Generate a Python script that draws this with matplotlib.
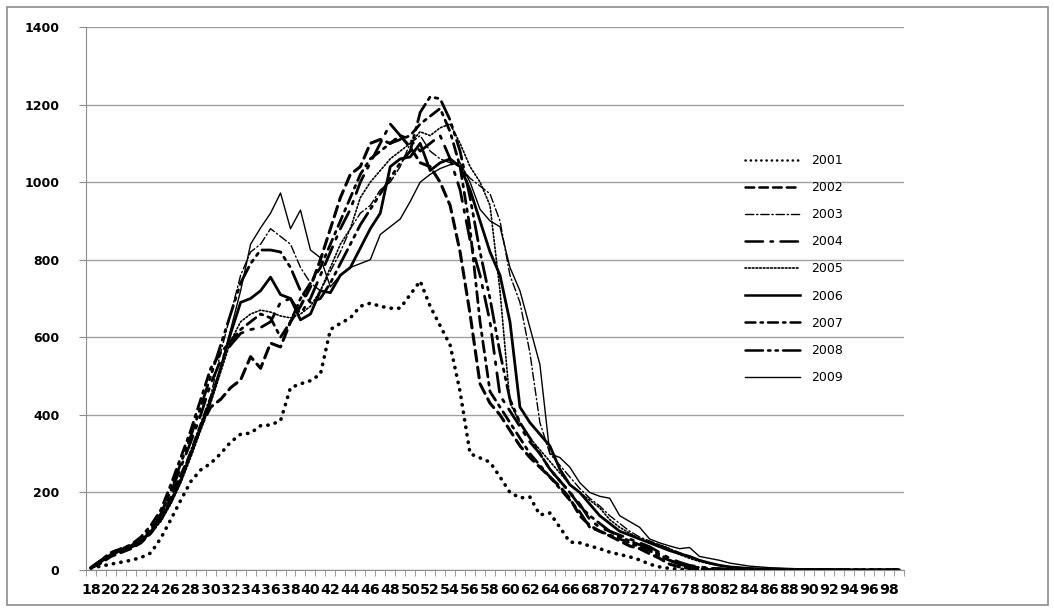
import matplotlib
matplotlib.use('Agg')
import matplotlib.pyplot as plt
from matplotlib.patches import Rectangle

ages = list(range(18, 100))
years = ['2001', '2002', '2003', '2004', '2005', '2006', '2007', '2008', '2009']

y2001 = [5, 10, 15, 20, 25, 32, 44, 82, 130, 180,
         228, 258, 275, 300, 330, 350, 353, 372, 374, 385,
         470, 480, 488, 505, 620, 636, 650, 680, 688, 680,
         675, 675, 710, 745, 680, 630, 580, 460, 300, 289,
         278, 240, 200, 186, 188, 142, 147, 110, 72, 70,
         62, 55, 46, 40, 34, 26, 15, 8, 4, 2,
         1, 0, 0, 0, 0, 0, 0, 0, 0, 0,
         0, 0, 0, 0, 0, 0, 0, 0, 0, 0,
         0, 0]
y2002 = [5, 18, 35, 45, 55, 70, 95, 130, 185, 245,
         300, 370, 420, 440, 470, 490, 550, 520, 585, 575,
         640, 680, 730, 800, 880, 960, 1020, 1040, 1100, 1110,
         1100, 1120, 1090, 1050, 1040, 1000, 940, 820, 660, 480,
         430, 400, 360, 320, 290, 265, 240, 215, 185, 140,
         115, 100, 88, 75, 62, 55, 42, 30, 15, 8,
         4, 2, 1, 0, 0, 0, 0, 0, 0, 0,
         0, 0, 0, 0, 0, 0, 0, 0, 0, 0,
         0, 0]
y2003 = [5, 20, 38, 50, 58, 72, 98, 130, 180, 240,
         310, 380, 450, 560, 660, 760, 820, 840, 880, 860,
         840, 780, 740, 720, 770, 820, 880, 920, 940, 980,
         1000, 1040, 1100, 1120, 1080, 1060, 1050, 1040, 1010, 990,
         970, 900, 760, 690, 560, 380, 300, 270, 240, 210,
         185, 165, 140, 120, 100, 85, 75, 65, 55, 45,
         35, 25, 18, 12, 9, 6, 4, 3, 2, 2,
         1, 1, 1, 1, 1, 0, 0, 0, 0, 0,
         0, 0]
y2004 = [6, 25, 45, 55, 62, 80, 105, 140, 200, 265,
         330, 400, 480, 540, 580, 610, 620, 625, 640, 690,
         700, 660, 700, 760, 820, 880, 930, 1000, 1050, 1100,
         1150, 1120, 1110, 1080, 1100, 1120, 1060, 980, 850, 760,
         640, 450, 410, 370, 330, 300, 260, 230, 200, 170,
         130, 110, 100, 90, 80, 70, 60, 45, 30, 20,
         12, 8, 5, 3, 2, 1, 1, 0, 0, 0,
         0, 0, 0, 0, 0, 0, 0, 0, 0, 0,
         0, 0]
y2005 = [5, 20, 38, 48, 56, 70, 95, 125, 170, 225,
         290, 360, 430, 510, 590, 640, 660, 670, 665, 655,
         650, 660, 680, 720, 780, 840, 880, 960, 1000, 1030,
         1060, 1080, 1100, 1130, 1120, 1140, 1150, 1100, 1040, 1000,
         940, 720, 430, 380, 340, 310, 280, 250, 220, 200,
         180, 160, 130, 110, 95, 80, 70, 65, 55, 40,
         30, 22, 16, 12, 8, 6, 4, 3, 2, 2,
         1, 1, 1, 1, 0, 0, 0, 0, 0, 0,
         0, 0]
y2006 = [6, 22, 40, 52, 60, 75, 100, 130, 175, 230,
         300, 370, 440, 520, 610, 690, 700, 720, 755, 710,
         700, 645, 660, 720, 715, 760, 780, 830, 880, 920,
         1040, 1060, 1065, 1100, 1030, 1050, 1060, 1040, 980, 900,
         820, 760, 640, 420, 380, 350, 320, 260, 220, 200,
         170, 140, 120, 100, 90, 80, 70, 60, 50, 42,
         35, 25, 18, 12, 8, 6, 4, 3, 2, 2,
         1, 1, 1, 1, 1, 0, 0, 0, 0, 0,
         0, 0]
y2007 = [7, 25, 45, 55, 65, 85, 115, 155, 220, 290,
         360, 440, 520, 560, 590, 620, 640, 660, 650, 600,
         640, 700, 740, 780, 840, 900, 960, 1020, 1060, 1080,
         1100, 1110, 1120, 1150, 1170, 1190, 1130, 1040, 880, 640,
         460, 420, 380, 340, 300, 270, 240, 210, 180, 150,
         110, 100, 90, 80, 70, 60, 50, 35, 25, 15,
         10, 6, 4, 3, 2, 1, 1, 0, 0, 0,
         0, 0, 0, 0, 0, 0, 0, 0, 0, 0,
         0, 0]
y2008 = [6, 22, 42, 52, 60, 78, 105, 145, 205, 275,
         345, 420, 500, 580, 660, 740, 790, 825, 825, 820,
         780, 720, 690, 700, 740, 790, 840, 890, 930, 970,
         1010, 1050, 1080, 1180, 1220, 1215, 1160, 1080, 960, 820,
         700, 560, 440, 380, 340, 300, 260, 230, 200, 165,
         140, 120, 100, 85, 75, 65, 55, 40, 25, 15,
         8, 5, 3, 2, 1, 1, 0, 0, 0, 0,
         0, 0, 0, 0, 0, 0, 0, 0, 0, 0,
         0, 0]
y2009 = [5, 22, 40, 50, 58, 72, 98, 128, 175, 230,
         295, 365, 435, 520, 620, 720, 840, 882, 920, 972,
         880, 928, 825, 805, 730, 760, 780, 790, 800, 865,
         885, 905, 950, 1000, 1020, 1035, 1045, 1050, 1000, 930,
         900, 885, 780, 720, 625, 530, 300, 290, 265, 225,
         200, 190, 185, 140, 125, 110, 80, 70, 62, 55,
         58, 35, 30, 25, 18, 14, 10, 8, 6, 5,
         4, 3, 3, 2, 2, 2, 1, 1, 1, 1,
         1, 1]

series = [y2001, y2002, y2003, y2004, y2005, y2006, y2007, y2008, y2009]

# line look for each year: (linestyle, width)
styles = [
    ((0, (0.1, 2.0)), 2.6),
    ((0, (3.5, 2.0)), 2.2),
    ((0, (6, 2, 1, 2)), 1.0),
    ((0, (7, 3, 1, 3)), 2.0),
    ((0, (1, 1.2)), 1.2),
    ('-', 2.0),
    ((0, (4, 2, 1, 2)), 2.0),
    ((0, (7, 2, 1, 2, 1, 2)), 2.0),
    ('-', 1.0),
]

fig = plt.figure(figsize=(10.54, 6.10), dpi=100)
fig.patches.append(Rectangle((7 / 1054, 5 / 610), 1041 / 1054, 598 / 610,
                             transform=fig.transFigure, fill=False,
                             edgecolor='#8c8c8c', lw=1.2))

ax = fig.add_axes([86 / 1054, 40 / 610, 818 / 1054, 543 / 610])
idx = list(range(len(ages)))

for vals, year, (ls, lw) in zip(series, years, styles):
    ax.plot(idx, vals, color='black', linestyle=ls, lw=lw,
            dash_capstyle='round', solid_joinstyle='round', label=year, zorder=3)

ax.set_xlim(-0.5, len(ages) - 0.5)
ax.set_ylim(0, 1400)
ax.set_yticks(range(0, 1401, 200))
ax.yaxis.grid(True, color='#a0a0a0', lw=1)
ax.set_axisbelow(True)

for s in ['top', 'right']:
    ax.spines[s].set_visible(False)
for s in ['left', 'bottom']:
    ax.spines[s].set_color('#8c8c8c')

ax.set_xticks(idx[::2])
ax.set_xticklabels([str(a) for a in ages[::2]])
ax.set_xticks([i - 0.5 for i in range(len(ages) + 1)], minor=True)
ax.tick_params(axis='x', which='major', length=0, pad=9)
ax.tick_params(axis='x', which='minor', length=4, color='#8c8c8c', direction='out')
ax.tick_params(axis='y', length=5, color='#8c8c8c', pad=14)
for lab in ax.get_xticklabels():
    lab.set_fontweight('bold')
    lab.set_fontsize(10.2)
for lab in ax.get_yticklabels():
    lab.set_fontweight('bold')
    lab.set_fontsize(9)

leg = ax.legend(loc='upper left', bbox_to_anchor=(745 / 1054, 1 - 154 / 610),
                bbox_transform=fig.transFigure, frameon=False, fontsize=9,
                handlelength=4.4, labelspacing=1.13, handletextpad=0.9,
                borderpad=0, borderaxespad=0)
for line in leg.get_lines():
    line.set_linewidth(min(line.get_linewidth(), 1.8))

fig.savefig('out.png', dpi=100)
